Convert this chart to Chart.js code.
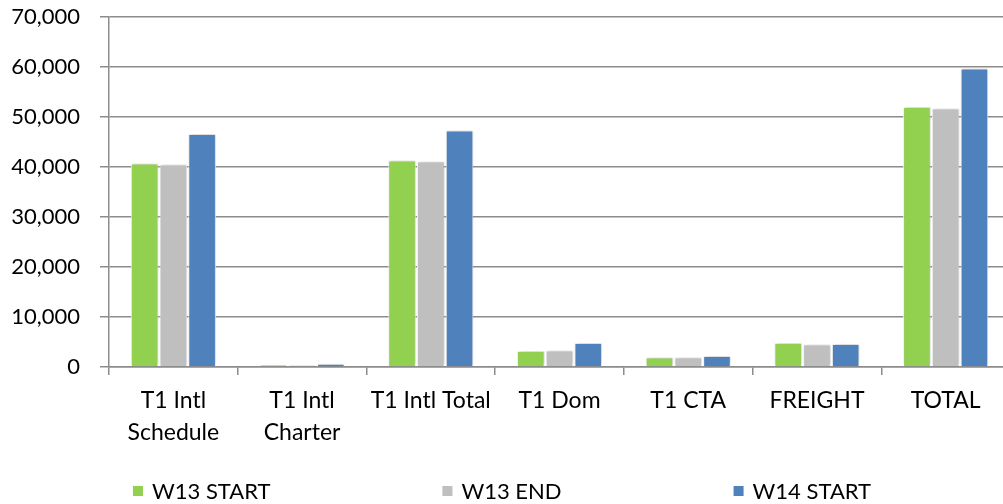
<!DOCTYPE html>
<html>
<head>
<meta charset="utf-8">
<script src="https://cdn.jsdelivr.net/npm/chart.js@4.4.1/dist/chart.umd.min.js"></script>
<style>
  html, body { margin: 0; padding: 0; background: #fff; overflow: hidden; }
  #wrap { width: 1010px; height: 504px; }
</style>
</head>
<body>
<div id="wrap"><canvas id="chart"></canvas></div>
<script>
const categories = [['T1 Intl', 'Schedule'], ['T1 Intl', 'Charter'], 'T1 Intl Total', 'T1 Dom', 'T1 CTA', 'FREIGHT', 'TOTAL'];
const w13Start = [40700, 450, 41300, 3200, 1900, 4800, 52000];
const w13End = [40500, 400, 41100, 3300, 1900, 4500, 51700];
const w14Start = [46600, 650, 47300, 4800, 2200, 4600, 59700];
const seriesNames = ['W13 START', 'W13 END', 'W14 START'];
const seriesColors = ['#92D050', '#BFBFBF', '#4F81BD'];

const FONT = 'Lato';
const GRID = '#8c8c8c';

// soft shadow behind the bars, like the office chart
const barShadow = {
  id: 'barShadow',
  beforeDatasetsDraw(chart) {
    const ctx = chart.ctx;
    ctx.save();
    ctx.shadowColor = 'rgba(0,0,0,0.22)';
    ctx.shadowBlur = 4;
    ctx.shadowOffsetX = 1;
    ctx.shadowOffsetY = -1;
  },
  afterDatasetsDraw(chart) {
    chart.ctx.restore();
  }
};

// spread-out legend along the bottom
const wideLegend = {
  id: 'wideLegend',
  afterDraw(chart) {
    const ctx = chart.ctx;
    const sets = chart.data.datasets;
    const box = 10;
    const gapText = 9;
    const gapItem = 172;
    ctx.save();
    ctx.font = `22px ${FONT}`;
    ctx.textBaseline = 'middle';
    const widths = sets.map((d) => box + gapText + ctx.measureText(d.label).width);
    const total = widths.reduce((a, b) => a + b, 0) + gapItem * (sets.length - 1);
    let x = 502 - total / 2;
    const y = 491;
    sets.forEach((d, i) => {
      ctx.fillStyle = d.backgroundColor;
      ctx.fillRect(x, y - box / 2, box, box);
      ctx.fillStyle = '#000';
      ctx.fillText(d.label, x + box + gapText, y + 1);
      x += widths[i] + gapItem;
    });
    ctx.restore();
  }
};

const datasets = [w13Start, w13End, w14Start].map((data, i) => ({
  label: seriesNames[i],
  data,
  backgroundColor: seriesColors[i],
  borderColor: '#ffffff',
  borderWidth: { top: 1, left: 1, right: 1, bottom: 0 },
  categoryPercentage: 0.67,
  barPercentage: 0.96
}));

new Chart(document.getElementById('chart'), {
  type: 'bar',
  data: { labels: categories, datasets },
  plugins: [barShadow, wideLegend],
  options: {
    responsive: true,
    maintainAspectRatio: false,
    animation: false,
    layout: { padding: { left: 10, top: 17, right: 0, bottom: 57 } },
    plugins: {
      legend: { display: false },
      tooltip: { enabled: false }
    },
    scales: {
      x: {
        grid: { offset: true, drawOnChartArea: false, drawTicks: true, tickLength: 8, color: GRID, lineWidth: 1.5 },
        border: { color: GRID, width: 1.5 },
        ticks: { color: '#000', font: { family: FONT, size: 23, lineHeight: 1.4 }, padding: 9, maxRotation: 0, autoSkip: false },
        afterFit(scale) { scale.height = 80; }
      },
      y: {
        min: 0,
        max: 70000,
        grid: { color: GRID, lineWidth: 1.5, tickLength: 9 },
        border: { color: GRID, width: 1.5 },
        ticks: {
          stepSize: 10000,
          color: '#000',
          padding: 20,
          font: { family: FONT, size: 22 },
          callback: (v) => v.toLocaleString('en-US')
        },
        afterFit(scale) {
          scale.width = 99;
          scale.paddingTop = 0;
          scale.paddingBottom = 0;
        }
      }
    }
  }
});
</script>
</body>
</html>
